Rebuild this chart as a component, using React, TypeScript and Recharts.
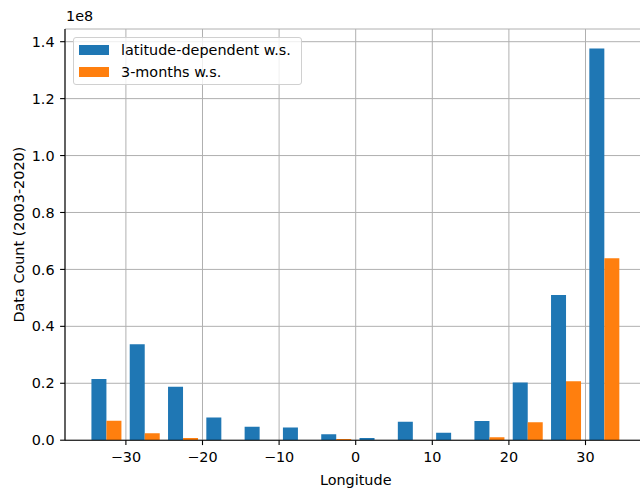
import React from "react";
import { BarChart, Bar, XAxis, YAxis, CartesianGrid } from "recharts";

// longitude bin centres (5 degree bins)
const binCenters = [
  -32.5, -27.5, -22.5, -17.5, -12.5, -7.5, -2.5, 2.5, 7.5, 12.5, 17.5, 22.5,
  27.5, 32.5,
];

// data counts 2003-2020
const latitudeDependent = [
  21.5e6, 33.7e6, 18.8e6, 8.0e6, 4.75e6, 4.5e6, 2.07e6, 0.77e6, 6.5e6, 2.6e6,
  6.75e6, 20.3e6, 51.0e6, 137.65e6,
];
const threeMonths = [
  6.85e6, 2.4e6, 0.77e6, 0, 0, 0, 0.4e6, 0, 0, 0, 1.0e6, 6.3e6, 20.7e6, 63.9e6,
];

const xTicks = [-30, -20, -10, 0, 10, 20, 30];
const yTicks = [0, 0.2e8, 0.4e8, 0.6e8, 0.8e8, 1.0e8, 1.2e8, 1.4e8];

const seriesNames = ["latitude-dependent w.s.", "3-months w.s."];
const BLUE = "#1f77b4";
const ORANGE = "#ff7f0e";
const FONT = "'DejaVu Sans', sans-serif";
const FS = 14.4;

const data = binCenters.map((lon, i) => ({
  lon,
  lat: latitudeDependent[i],
  three: threeMonths[i],
}));

const xDomain = [-37.95, 37.95];
const yDomain = [0, 1.4446e8];

const fmtX = (v: number) => (v < 0 ? "\u2212" + Math.abs(v) : String(v));
const fmtY = (v: number) => (v / 1e8).toFixed(1);

const tickStyle = { fontSize: FS, fill: "#000", fontFamily: FONT };

function LegendBox() {
  const colors = [BLUE, ORANGE];
  return (
    <div
      style={{
        position: "absolute",
        left: 73,
        top: 37,
        width: 229,
        height: 48,
        border: "1px solid #d0d0d0",
        borderRadius: 3,
        background: "rgba(255,255,255,0.8)",
        padding: "1px 6px 0 5px",
        fontFamily: FONT,
        fontSize: FS,
        color: "#000",
        boxSizing: "border-box",
      }}
    >
      {seriesNames.map((name, i) => (
        <div
          key={name}
          style={{ display: "flex", alignItems: "center", height: 22, whiteSpace: "nowrap" }}
        >
          <span
            style={{
              display: "inline-block",
              flex: "none",
              width: 30,
              height: 10,
              background: colors[i],
              marginRight: 12,
            }}
          />
          <span>{name}</span>
        </div>
      ))}
    </div>
  );
}

export default function App() {
  return (
    <div
      style={{
        position: "absolute",
        left: 0,
        top: 0,
        width: 640,
        height: 489,
        overflow: "hidden",
        background: "#fff",
      }}
    >
      <BarChart
        width={660}
        height={489}
        data={data}
        margin={{ top: 29, right: 13.6, bottom: 0, left: 0 }}
        barCategoryGap="10%"
        barGap={0}
        style={{ fontFamily: FONT }}
      >
        <Bar dataKey="lat" name={seriesNames[0]} fill={BLUE} isAnimationActive={false} />
        <Bar dataKey="three" name={seriesNames[1]} fill={ORANGE} isAnimationActive={false} />
        <CartesianGrid stroke="#b0b0b0" strokeWidth={1} />
        <XAxis
          dataKey="lon"
          type="number"
          domain={xDomain}
          ticks={xTicks}
          allowDataOverflow
          tickFormatter={fmtX}
          tick={tickStyle}
          tickSize={4.9}
          tickMargin={7}
          axisLine={{ stroke: "#000", strokeWidth: 1.1 }}
          tickLine={{ stroke: "#000", strokeWidth: 1.1 }}
          height={48.8}
          label={{
            value: "Longitude",
            position: "insideBottom",
            offset: 4,
            fill: "#000",
            fontSize: FS,
            fontFamily: FONT,
          }}
        />
        <XAxis
          xAxisId="top"
          orientation="top"
          type="number"
          domain={xDomain}
          allowDataOverflow
          tick={false}
          tickLine={false}
          axisLine={{ stroke: "#000", strokeWidth: 1.1 }}
          height={0}
        />
        <YAxis
          type="number"
          domain={yDomain}
          ticks={yTicks}
          allowDataOverflow
          tickFormatter={fmtY}
          tick={tickStyle}
          tickSize={4.9}
          tickMargin={5.5}
          axisLine={{ stroke: "#000", strokeWidth: 1.1 }}
          tickLine={{ stroke: "#000", strokeWidth: 1.1 }}
          width={65}
          label={{
            value: "Data Count (2003-2020)",
            angle: -90,
            position: "insideLeft",
            offset: 19,
            textAnchor: "middle",
            fill: "#000",
            fontSize: FS,
            fontFamily: FONT,
          }}
        />
      </BarChart>
      <div
        style={{
          position: "absolute",
          left: 66,
          top: 8,
          fontFamily: FONT,
          fontSize: FS,
        }}
      >
        1e8
      </div>
      <LegendBox />
    </div>
  );
}
